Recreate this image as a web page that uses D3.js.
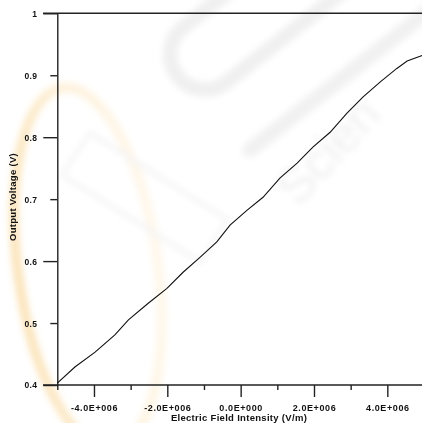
<!DOCTYPE html>
<html>
<head>
<meta charset="utf-8">
<script src="https://cdn.jsdelivr.net/npm/d3@7"></script>
<style>
  html, body { margin: 0; padding: 0; background: #fff; }
  svg { display: block; }
  text { font-family: "Liberation Sans", Arial, sans-serif; fill: #111; }
</style>
</head>
<body>
<svg id="chart" width="422" height="423"></svg>
<script>
// Electric field intensity (V/m) and measured output voltage (V)
const fieldValues = [-5.0e6, -4.52e6, -3.97e6, -3.43e6, -3.06e6, -2.52e6, -2.01e6, -1.57e6,
  -1.11e6, -0.65e6, -0.29e6, 0.17e6, 0.61e6, 1.07e6, 1.54e6, 1.97e6, 2.44e6, 2.90e6,
  3.34e6, 3.80e6, 4.26e6, 4.54e6, 4.95e6];
const voltageValues = [0.403, 0.429, 0.453, 0.481, 0.505, 0.532, 0.556, 0.582,
  0.606, 0.631, 0.658, 0.682, 0.703, 0.734, 0.758, 0.784, 0.808, 0.839,
  0.865, 0.889, 0.911, 0.923, 0.932];

const xTickValues = [-5e6, -4e6, -3e6, -2e6, -1e6, 0, 1e6, 2e6, 3e6, 4e6];
const xTickLabels = ["", "-4.0E+006", "", "-2.0E+006", "", "0.0E+000", "", "2.0E+006", "", "4.0E+006"];
const yTickValues = [0.4, 0.5, 0.6, 0.7, 0.8, 0.9, 1.0];
const yTickLabels = ["0.4", "0.5", "0.6", "0.7", "0.8", "0.9", "1"];
const xTitle = "Electric Field Intensity (V/m)";
const yTitle = "Output Voltage (V)";

const svg = d3.select("#chart");
const plotLeft = 57.3, plotRight = 424, plotTop = 13.3, plotBottom = 385;

const x = d3.scaleLinear().domain([-5e6, 5e6]).range([plotLeft, plotRight]);
const y = d3.scaleLinear().domain([0.4, 1.0]).range([plotBottom, plotTop]);

svg.append("rect").attr("width", 422).attr("height", 423).attr("fill", "#fff");

// faint publisher mark behind the plot
const defs = svg.append("defs");
defs.append("filter").attr("id", "soft").append("feGaussianBlur").attr("stdDeviation", 3);
const ringGrad = defs.append("linearGradient").attr("id", "ringGrad")
  .attr("x1", "0").attr("x2", "1").attr("y1", "0").attr("y2", "0");
ringGrad.append("stop").attr("offset", "0").attr("stop-color", "#f9d9a0");
ringGrad.append("stop").attr("offset", "0.5").attr("stop-color", "#fcebcc");
ringGrad.append("stop").attr("offset", "1").attr("stop-color", "#fdf3e2");
const mark = svg.append("g").attr("filter", "url(#soft)");
mark.append("ellipse")
  .attr("cx", 88).attr("cy", 268).attr("rx", 70).attr("ry", 182)
  .attr("transform", "rotate(-8 88 268)")
  .attr("fill", "none").attr("stroke", "url(#ringGrad)").attr("stroke-width", 10).attr("opacity", 0.7);
mark.append("rect")
  .attr("x", 280 - 130).attr("y", -4 - 35).attr("width", 260).attr("height", 70).attr("rx", 35)
  .attr("transform", "rotate(-38 280 -4)")
  .attr("fill", "none").attr("stroke", "#f0f0f0").attr("stroke-width", 15);
mark.append("line")
  .attr("x1", 250).attr("y1", 150).attr("x2", 440).attr("y2", 2)
  .attr("stroke", "#f1f1f1").attr("stroke-width", 15).attr("stroke-linecap", "round");
mark.append("path")
  .attr("d", "M90,133 L228,220 L200,262 L62,175 Z")
  .attr("fill", "none").attr("stroke", "#f4f4f4").attr("stroke-width", 4);
mark.append("text")
  .attr("transform", "translate(298,208) rotate(-47)")
  .style("font-size", "50px").style("fill", "#f0f0f0")
  .text("Scien");

// frame lines
const axisColor = "#222";
svg.append("line").attr("x1", 43).attr("x2", 422).attr("y1", plotTop).attr("y2", plotTop)
  .attr("stroke", axisColor).attr("stroke-width", 1.4);

// y axis: major ticks at 0.4/0.6/0.8/1.0 are longer
const yAxis = svg.append("g").attr("transform", `translate(${plotLeft},0)`)
  .call(d3.axisLeft(y).tickValues(yTickValues).tickSize(0).tickFormat(""));
yAxis.select(".domain").attr("stroke", axisColor).attr("stroke-width", 1.4);
yAxis.selectAll(".tick line")
  .attr("x2", (d, i) => i % 2 === 0 ? -14 : -7)
  .attr("stroke", axisColor).attr("stroke-width", 1.4);
yAxis.selectAll(".tick").append("text")
  .attr("x", -20).attr("dy", "0.35em").attr("text-anchor", "end")
  .style("font-size", "8.5px").style("font-weight", "bold").style("letter-spacing", "0.3px")
  .style("fill", "#111")
  .text((d, i) => yTickLabels[i]);

// x axis: major ticks at even millions
const xAxis = svg.append("g").attr("transform", `translate(0,${plotBottom})`)
  .call(d3.axisBottom(x).tickValues(xTickValues).tickSize(0).tickFormat(""));
xAxis.select(".domain").remove();
xAxis.append("line").attr("x1", 43).attr("x2", 422).attr("y1", 0).attr("y2", 0)
  .attr("stroke", axisColor).attr("stroke-width", 1.4);
xAxis.selectAll(".tick line")
  .attr("y2", (d, i) => i % 2 === 1 ? 12 : 5)
  .attr("stroke", axisColor).attr("stroke-width", 1.4);
xAxis.selectAll(".tick").append("text")
  .attr("y", 26).attr("text-anchor", "middle")
  .style("font-size", "9px").style("font-weight", "bold").style("letter-spacing", "0.6px")
  .style("fill", "#111")
  .text((d, i) => xTickLabels[i]);

// axis titles
svg.append("text")
  .attr("x", 239).attr("y", 421).attr("text-anchor", "middle")
  .style("font-size", "9.5px").style("font-weight", "bold").style("letter-spacing", "0.3px")
  .text(xTitle);
svg.append("text")
  .attr("transform", `translate(16,197) rotate(-90)`).attr("text-anchor", "middle")
  .style("font-size", "9.5px").style("font-weight", "bold").style("letter-spacing", "0.3px")
  .text(yTitle);

// measured curve
const points = fieldValues.map((v, i) => [v, voltageValues[i]]);
svg.append("path")
  .datum(points)
  .attr("fill", "none").attr("stroke", "#111").attr("stroke-width", 1.1)
  .attr("d", d3.line().x(d => x(d[0])).y(d => y(d[1])));
</script>
</body>
</html>
